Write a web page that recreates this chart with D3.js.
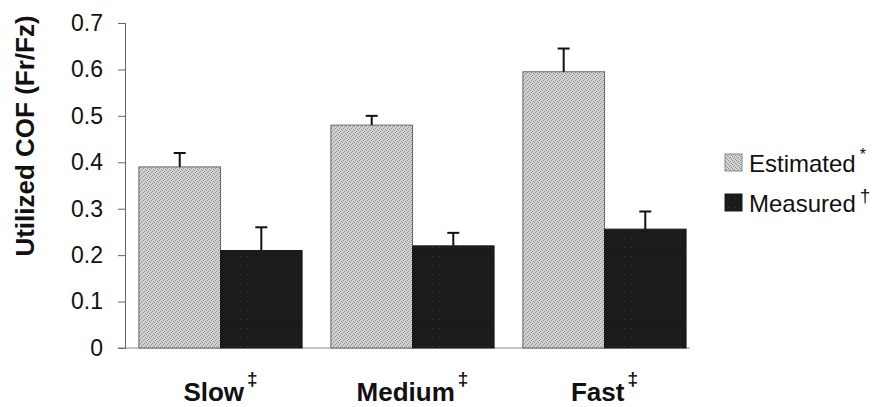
<!DOCTYPE html>
<html>
<head>
<meta charset="utf-8">
<script src="https://cdn.jsdelivr.net/npm/d3@7"></script>
<style>
  body { margin: 0; background: #fff; }
  text { font-family: Arial, "Liberation Sans", sans-serif; fill: #111; }
</style>
</head>
<body>
<div id="chart"></div>
<script>
var categories = ['Slow', 'Medium', 'Fast'];
var seriesNames = ['Estimated', 'Measured'];
var seriesMarks = ['*', '\u2020'];
var estimated = [0.39, 0.48, 0.595];
var estimatedErr = [0.03, 0.02, 0.05];
var measured = [0.21, 0.22, 0.256];
var measuredErr = [0.05, 0.028, 0.038];
var yTicks = [0, 0.1, 0.2, 0.3, 0.4, 0.5, 0.6, 0.7];

var width = 874, height = 407;

var svg = d3.select('#chart').append('svg')
    .attr('width', width)
    .attr('height', height);

// stipple texture for the light bars
var defs = svg.append('defs');
var pat = defs.append('pattern')
    .attr('id', 'stipple')
    .attr('width', 4).attr('height', 4)
    .attr('patternUnits', 'userSpaceOnUse');
pat.append('rect').attr('width', 4).attr('height', 4).attr('fill', '#d6d6d6');
[[0, 0], [2, 1], [1, 3], [3, 2]].forEach(function(p) {
    pat.append('rect').attr('x', p[0]).attr('y', p[1]).attr('width', 1).attr('height', 1).attr('fill', '#8a8a8a');
});
var pat2 = defs.append('pattern')
    .attr('id', 'dark')
    .attr('width', 7).attr('height', 9)
    .attr('patternUnits', 'userSpaceOnUse');
pat2.append('rect').attr('width', 7).attr('height', 9).attr('fill', '#1b1b1b');
pat2.append('rect').attr('x', 3).attr('y', 4).attr('width', 1).attr('height', 1).attr('fill', '#3a3a3a');

var fills = ['url(#stipple)', 'url(#dark)'];

var y = d3.scaleLinear().domain([0, 0.7]).range([348, 23]);

var x0 = d3.scaleBand()
    .domain(categories)
    .range([125, 700])
    .paddingInner(0.15)
    .paddingOuter(0.0725);

var x1 = d3.scaleBand()
    .domain(seriesNames)
    .range([0, x0.bandwidth()]);

var rows = categories.map(function(c, i) {
    return {
        cat: c,
        vals: [
            { key: 'Estimated', value: estimated[i], err: estimatedErr[i] },
            { key: 'Measured', value: measured[i], err: measuredErr[i] }
        ]
    };
});

// baseline
svg.append('line')
    .attr('x1', 118).attr('x2', 690)
    .attr('y1', y(0)).attr('y2', y(0))
    .attr('stroke', '#8a8a8a').attr('stroke-width', 1);

// y axis
var yAxis = d3.axisLeft(y)
    .tickValues(yTicks)
    .tickFormat(function(d) { return d === 0 ? '0' : d3.format('.1f')(d); })
    .tickSize(7)
    .tickPadding(15);

var ya = svg.append('g')
    .attr('transform', 'translate(125,0)')
    .call(yAxis);
ya.select('.domain').attr('stroke', '#666').attr('stroke-width', 1);
ya.selectAll('.tick line').attr('stroke', '#666');
ya.selectAll('.tick text')
    .attr('font-size', null)
    .style('font-size', '23px')
    .attr('fill', '#111');
ya.attr('font-size', null).attr('font-family', null);

// bars
var groups = svg.selectAll('.grp')
    .data(rows)
    .enter()
    .append('g')
    .attr('class', 'grp')
    .attr('transform', function(d) { return 'translate(' + x0(d.cat) + ',0)'; });

groups.selectAll('rect')
    .data(function(d) { return d.vals; })
    .enter()
    .append('rect')
    .attr('x', function(d) { return x1(d.key); })
    .attr('y', function(d) { return y(d.value); })
    .attr('width', x1.bandwidth())
    .attr('height', function(d) { return y(0) - y(d.value); })
    .attr('fill', function(d, i) { return fills[i]; })
    .attr('stroke', function(d, i) { return i === 0 ? '#666' : '#1b1b1b'; })
    .attr('stroke-width', 1);

// error bars
var err = groups.selectAll('.err')
    .data(function(d) { return d.vals; })
    .enter()
    .append('g')
    .attr('class', 'err');

err.append('line')
    .attr('x1', function(d) { return x1(d.key) + x1.bandwidth() / 2; })
    .attr('x2', function(d) { return x1(d.key) + x1.bandwidth() / 2; })
    .attr('y1', function(d) { return y(d.value); })
    .attr('y2', function(d) { return y(d.value + d.err); })
    .attr('stroke', '#111').attr('stroke-width', 2);

err.append('line')
    .attr('x1', function(d) { return x1(d.key) + x1.bandwidth() / 2 - 6; })
    .attr('x2', function(d) { return x1(d.key) + x1.bandwidth() / 2 + 6; })
    .attr('y1', function(d) { return y(d.value + d.err); })
    .attr('y2', function(d) { return y(d.value + d.err); })
    .attr('stroke', '#111').attr('stroke-width', 2);

// category labels
var cl = svg.selectAll('.cat')
    .data(categories)
    .enter()
    .append('text')
    .attr('class', 'cat')
    .attr('x', function(d) { return x0(d) + x0.bandwidth() / 2; })
    .attr('y', 401)
    .attr('text-anchor', 'middle')
    .style('font-size', '26px')
    .style('font-weight', 'bold');
cl.append('tspan').text(function(d) { return d; });
cl.append('tspan')
    .attr('dx', 3)
    .attr('dy', -16)
    .style('font-size', '19px')
    .text('\u2021');

// y title
svg.append('text')
    .attr('transform', 'translate(34,136) rotate(-90)')
    .attr('text-anchor', 'middle')
    .style('font-size', '26px')
    .style('font-weight', 'bold')
    .text('Utilized COF (Fr/Fz)');

// legend
var legend = svg.selectAll('.leg')
    .data(seriesNames)
    .enter()
    .append('g')
    .attr('class', 'leg')
    .attr('transform', function(d, i) { return 'translate(725,' + (154 + i * 40) + ')'; });

legend.append('rect')
    .attr('width', 17).attr('height', 17)
    .attr('fill', function(d, i) { return fills[i]; })
    .attr('stroke', function(d, i) { return i === 0 ? '#888' : '#1b1b1b'; });

var lt = legend.append('text')
    .attr('x', 24)
    .attr('y', 18)
    .style('font-size', '24px');
lt.append('tspan').text(function(d) { return d; });
lt.append('tspan')
    .attr('dx', 4)
    .attr('dy', function(d, i) { return i === 0 ? -12 : -10; })
    .style('font-size', function(d, i) { return i === 0 ? '16px' : '19px'; })
    .text(function(d, i) { return seriesMarks[i]; });
</script>
</body>
</html>
